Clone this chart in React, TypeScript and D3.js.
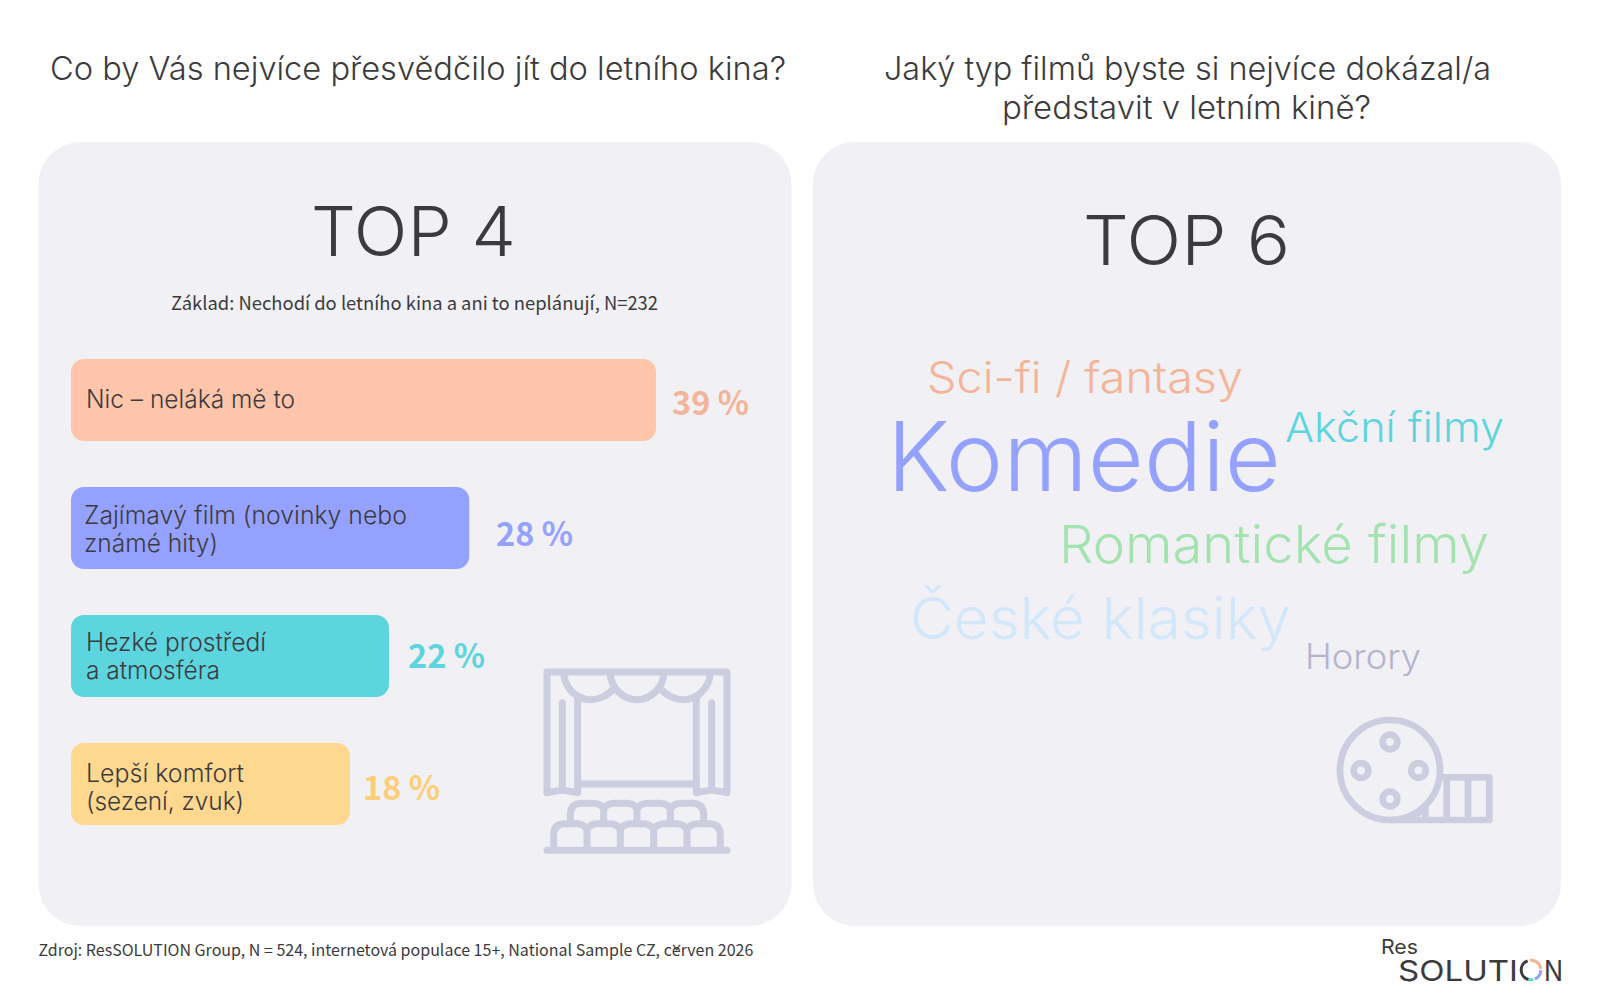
import React from "react";
import * as d3 from "d3";

const W = 1600, H = 1000;
const INK = "#3b3b3e";
const PANEL = "#f0f0f5";
const ICON = "#cccedf";
const SANS = "Inter, sans-serif";
const SOURCE = "'Noto Sans CJK SC', sans-serif";

// ---- data ----
const barCategories = [
  ["Nic – neláká mě to"],
  ["Zajímavý film (novinky nebo", "známé hity)"],
  ["Hezké prostředí", "a atmosféra"],
  ["Lepší komfort", "(sezení, zvuk)"],
];
const barLabels = ["39 %", "28 %", "22 %", "18 %"];
// bar lengths, on the percentage scale
const barValues = [39, 26.55, 21.2, 18.6];
const barColors = ["#ffc5ab", "#95a1ff", "#5dd5de", "#ffd890"];
const labelColors = ["#f4b497", "#95a1ff", "#5dd5de", "#fdcd78"];

const words = ["Sci-fi / fantasy", "Komedie", "Akční filmy", "Romantické filmy", "České klasiky", "Horory"];
const wordWeights = [43, 96, 41, 52, 58, 35];
const wordColors = ["#f4b497", "#95a1ff", "#5dd5de", "#a4e3b0", "#d2e7fa", "#b4b4cb"];
// left, right, baseline of each word in the cloud
const wordBoxes = [
  [927, 1243, 393], [887, 1281, 491], [1285, 1504, 442],
  [1059, 1489, 563], [910, 1291, 639], [1305, 1421, 669],
];

const x = d3.scaleLinear().domain([0, 39]).range([0, 585]);
const y = d3.scaleBand<number>().domain([0, 1, 2, 3]).range([359, 825]).paddingInner(0.359);
const fontSize = d3.scaleLinear().domain([0, 96]).range([0, 96]);

const labelBaselines = [[408], [524, 552], [651, 679], [782, 810]];
const labelLeft = [86, 84, 86, 86];
const labelWidths = [[209], [323, 134], [180, 134], [158, 158]];
const pctPos = [[672, 749, 415], [496, 573, 546], [408, 485, 668], [363, 440, 800]];

function Txt({ x, y, w, fs, fill = INK, family = SANS, weight = 350, children }: any) {
  return (
    <text x={x} y={y} fontSize={fs} fill={fill} fontFamily={family} fontWeight={weight}
      textLength={w} lengthAdjust="spacingAndGlyphs">{children}</text>
  );
}

function Theatre() {
  return (
    <g transform="translate(500,630) scale(0.3333)" fill="none" stroke={ICON} strokeWidth={21} strokeLinejoin="round" strokeLinecap="round">
      <path d="M141 488V126H681V488L635 480L589 488V205" />
      <path d="M141 488L187 480L233 488V205" />
      <path d="M233 462H589" />
      <path d="M187 218V470M635 218V470" />
      <path d="M191 130C195 175 230 209 272 209C297 209 325 196 341 175" />
      <path d="M330 130C333 175 370 209 411 209C452 209 488 175 492 130" />
      <path d="M631 130C627 175 592 209 550 209C525 209 497 196 481 175" />
      <path d="M211 575V555Q211 520 246 520H280Q298 520 311 535Q324 520 342 520H380Q398 520 411 535Q424 520 442 520H480Q498 520 511 535Q524 520 542 520H576Q611 520 611 555V575" />
      <path d="M311 535V575M411 535V575M511 535V575" strokeLinecap="butt" />
      <path d="M161 660V615Q161 581 195 581H230Q248 581 261 596Q274 581 292 581H330Q348 581 361 596Q374 581 392 581H430Q448 581 461 596Q474 581 492 581H530Q548 581 561 596Q574 581 592 581H627Q661 581 661 615V660" />
      <path d="M261 596V660M361 596V660M461 596V660M561 596V660" strokeLinecap="butt" />
      <path d="M141 661H681" />
    </g>
  );
}

function Reel() {
  const holes = [[1390, 742], [1361, 770.5], [1418.5, 770.5], [1390, 799]];
  return (
    <g fill="none" stroke={ICON} strokeWidth={6.7} strokeLinejoin="round">
      <circle cx={1390} cy={770} r={50} />
      {holes.map(([cx, cy], i) => <circle key={i} cx={cx} cy={cy} r={7.3} />)}
      <path d="M1438 777.3H1489.3V820H1390" />
      <path d="M1446.7 777.3V820M1468 777.3V820M1425.3 805V820" />
      <path d="M1416 815L1421 811" />
    </g>
  );
}

function Logo() {
  const arc = d3.arc<any>().innerRadius(8.3).outerRadius(11.3);
  const segs: [number, number, string][] = [
    [-2.9, -0.35, INK],
    [-0.12, 1.45, "#f4b497"],
    [1.6, 2.75, "#95a1ff"],
    [2.9, 3.4, "#5dd5de"],
  ];
  return (
    <g>
      <Txt x={1381} y={954} w={37} fs={20} weight={400}>Res</Txt>
      <Txt x={1398} y={981} w={120} fs={29} weight={400}>SOLUTI</Txt>
      <g transform="translate(1531,970)">
        {segs.map(([s, e, c], i) => (
          <path key={i} d={arc({ startAngle: s, endAngle: e }) as string} fill={c} />
        ))}
      </g>
      <Txt x={1544} y={981} w={19} fs={29} weight={400}>N</Txt>
    </g>
  );
}

export default function App() {
  return (
    <svg width={W} height={H} viewBox={`0 0 ${W} ${H}`} style={{ position: "absolute", left: 0, top: 0, background: "#fff" }}>
      <Txt x={50} y={80} w={736} fs={32}>Co by Vás nejvíce přesvědčilo jít do letního kina?</Txt>
      <Txt x={884} y={80} w={607} fs={32}>Jaký typ filmů byste si nejvíce dokázal/a</Txt>
      <Txt x={1002} y={119} w={369} fs={32}>představit v letním kině?</Txt>

      <rect x={38.5} y={142} width={753} height={784} rx={42} fill={PANEL} />
      <rect x={813} y={142} width={748} height={784} rx={42} fill={PANEL} />

      <Txt x={311} y={256} w={205} fs={69}>TOP 4</Txt>
      <Txt x={1083} y={265} w={207} fs={69}>TOP 6</Txt>
      <Txt x={171} y={310} w={487} fs={18.5} family={SOURCE} weight={400}>Základ: Nechodí do letního kina a ani to neplánují, N=232</Txt>

      {barValues.map((v, i) => (
        <g key={i}>
          <rect x={71} y={y(i)} width={x(v)} height={y.bandwidth()} rx={13} fill={barColors[i]} />
          {barCategories[i].map((line, j) => (
            <Txt key={j} x={labelLeft[i]} y={labelBaselines[i][j]} w={labelWidths[i][j]} fs={25}>{line}</Txt>
          ))}
          <Txt x={pctPos[i][0]} y={pctPos[i][2]} w={pctPos[i][1] - pctPos[i][0]} fs={33} fill={labelColors[i]} family={SOURCE} weight={700}>{barLabels[i]}</Txt>
        </g>
      ))}

      {words.map((w, i) => (
        <Txt key={w} x={wordBoxes[i][0]} y={wordBoxes[i][2]} w={wordBoxes[i][1] - wordBoxes[i][0]} fs={fontSize(wordWeights[i])} fill={wordColors[i]}>{w}</Txt>
      ))}

      <Theatre />
      <Reel />

      <text x={38.5} y={956} fontSize={16} fill={INK} fontFamily={SOURCE}>Zdroj: ResSOLUTION Group, N = 524, internetová populace 15+, National Sample CZ, červen 2026</text>
      <Logo />
    </svg>
  );
}
